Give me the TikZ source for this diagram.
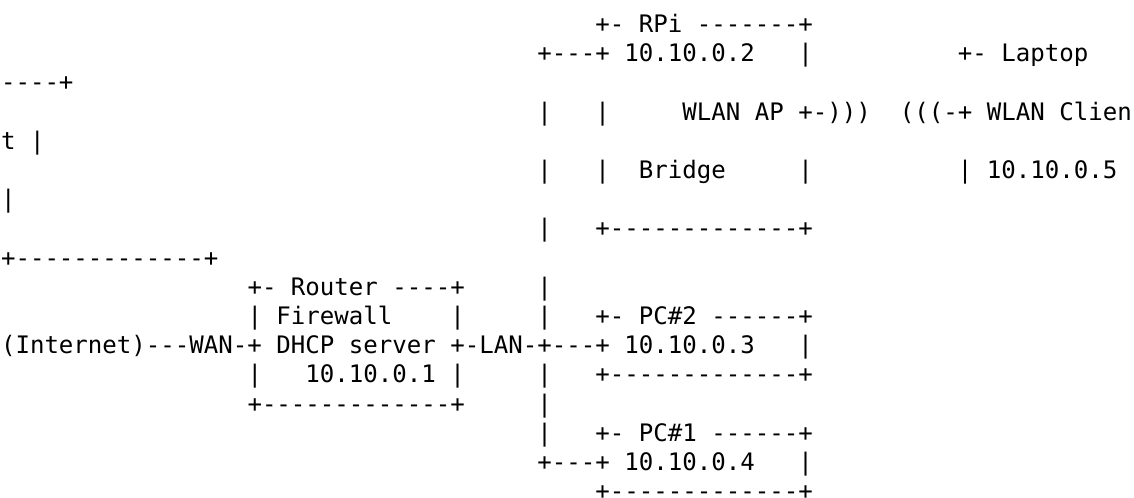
\documentclass[tikz,border=0pt]{standalone}
\usepackage{fontspec}
\setmonofont{DejaVu Sans Mono}
\usepackage{tikz}
\tikzset{
  asc/.style={anchor=base west, inner sep=0pt, outer sep=0pt,
    font=\ttfamily\fontsize{18.06pt}{21.9pt}\selectfont},
}
\begin{document}
\frenchspacing
\begin{tikzpicture}[x=10.875pt, y=-21.9pt]
    \useasboundingbox (-0.07,-1.113) rectangle (78.14,15.94);
    % RPi bridge and the laptop (wrapped lines)
    \node[asc] (rpihead) at (41,0) {+-~RPi~-------+};
    \node[asc] (rpiip) at (37,1) {+---+~10.10.0.2~~~|~~~~~~~~~~+-~Laptop};
    \node[asc] (laptopwrap) at (0,2) {----+};
    \node[asc] (wlan) at (37,3) {|~~~|~~~~~WLAN~AP~+-)))~~(((-+~WLAN~Clien};
    \node[asc] (wlanwrap) at (0,4) {t~|};
    \node[asc] (bridge) at (37,5) {|~~~|~~Bridge~~~~~|~~~~~~~~~~|~10.10.0.5};
    \node[asc] (bridgewrap) at (0,6) {|};
    \node[asc] (rpifoot) at (37,7) {|~~~+-------------+};
    \node[asc] (laptopfoot) at (0,8) {+-------------+};
    % router and the wired PCs
    \node[asc] (routerhead) at (17,9) {+-~Router~----+~~~~~|};
    \node[asc] (firewall) at (17,10) {|~Firewall~~~~|~~~~~|~~~+-~PC\#2~------+};
    \node[asc] (internet) at (0,11) {(Internet)---WAN-+~DHCP~server~+-LAN-+---+~10.10.0.3~~~|};
    \node[asc] (routerip) at (17,12) {|~~~10.10.0.1~|~~~~~|~~~+-------------+};
    \node[asc] (routerfoot) at (17,13) {+-------------+~~~~~|};
    \node[asc] (pconehead) at (37,14) {|~~~+-~PC\#1~------+};
    \node[asc] (pconeip) at (37,15) {+---+~10.10.0.4~~~|};
    \node[asc] (pconefoot) at (41,16) {+-------------+};
\end{tikzpicture}
\end{document}
